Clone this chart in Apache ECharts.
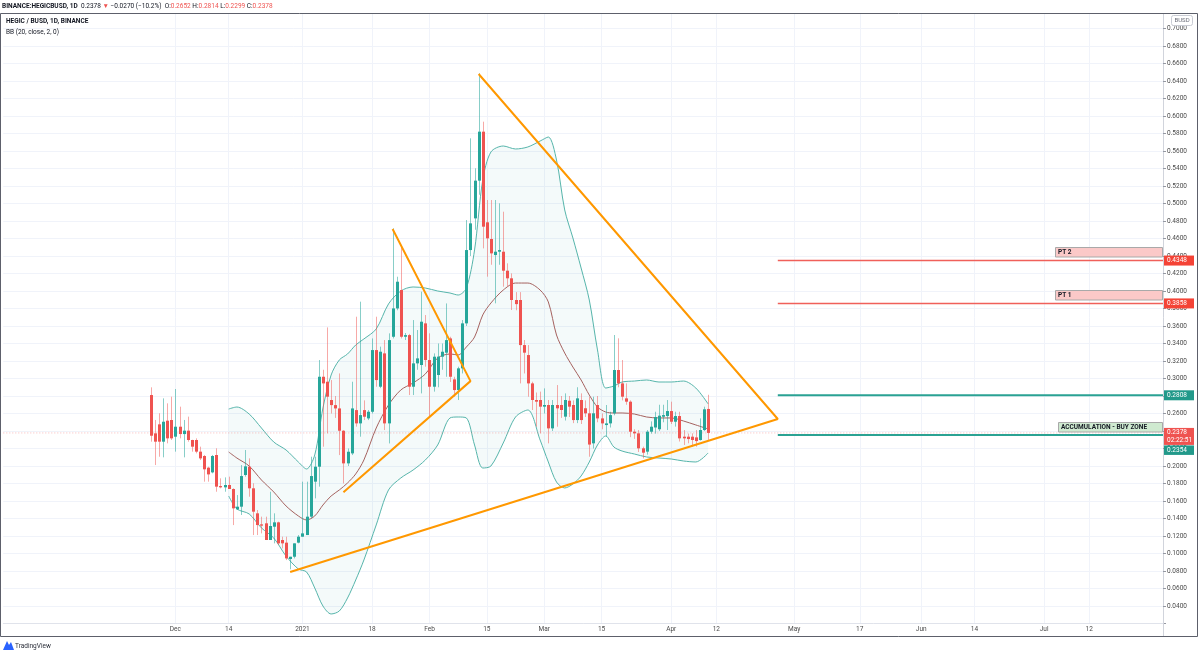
<!DOCTYPE html>
<html>
<head>
<meta charset="utf-8">
<script src="https://cdn.jsdelivr.net/npm/echarts@6/dist/echarts.min.js"></script>
<style>
  html, body { margin: 0; padding: 0; background: #fff; }
  #main { width: 1200px; height: 655px; }
</style>
</head>
<body>
<div id="main"></div>
<script>
// axis range (daily categories) and first candle
var axisStart = '2020-10-20';
var axisDays = 284;
var candleStart = '2020-11-25';

// daily candles from 2020-11-25 to 2021-04-10
var opens = [
  .2811,.2373,.2476,.2278,.2518,.2526,.2335,.2449,.2365,.2404,
  .2297,.2297,.2164,.2114,.1981,.1927,.2126,.1771,.1756,.1783,
  .1737,.1504,.1535,.1897,.1992,.1745,.1459,.1333,.1345,.1154,
  .1306,.1356,.1154,.1124,.0937,.0963,.1124,.1192,.1211,.1421,
  .1821,.1992,.3020,.2963,.2754,.2696,.2658,.2403,.2030,.2144,
  .2639,.2487,.2639,.2544,.2620,.3325,.2906,.3287,.2487,.3477,
  .3801,.4011,.3477,.3496,.2906,.3173,.3154,.3630,.3211,.2906,
  .3040,.3249,.3295,.3458,.2990,.2868,.3116,.3630,.4468,.4830,
  .5261,.5821,.4785,.4594,.4411,.4449,.4449,.4232,.4145,.3897,
  .3897,.3382,.3268,.2944,.2754,.2754,.2678,.2697,.2430,.2697,
  .2697,.2564,.2746,.2697,.2525,.2754,.2660,.2602,.2259,.2697,
  .2544,.2468,.2487,.2602,.3097,.2944,.2773,.2735,.2392,.2373,
  .2202,.2164,.2392,.2440,.2420,.2563,.2571,.2628,.2506,.2571,
  .2335,.2335,.2335,.2327,.2297,.2411,.2652
];
var highs = [
  .2899,.2526,.2602,.2773,.2716,.2792,.2880,.2678,.2526,.2564,
  .2300,.2316,.2221,.2126,.1992,.2126,.2202,.1859,.1870,.1878,
  .1745,.1668,.2011,.2183,.2087,.1802,.1497,.1421,.1421,.1706,
  .1459,.1364,.1192,.1192,.0963,.1116,.1211,.1821,.1821,.2106,
  .2106,.3211,.3100,.3584,.2982,.2800,.3058,.2410,.2200,.2963,
  .3706,.3878,.2750,.2640,.3458,.3706,.3364,.3439,.3516,.4716,
  .4163,.4506,.3520,.3510,.3668,.3554,.3992,.3725,.3516,.3287,
  .3400,.3400,.3858,.3477,.3020,.3135,.3668,.4811,.5745,.5402,
  .6488,.5935,.5040,.5040,.5040,.5002,.4906,.4316,.4201,.3987,
  .3987,.3440,.3382,.2963,.2840,.2850,.2887,.2754,.2754,.2925,
  .2800,.2830,.2800,.2750,.2900,.2830,.2750,.2792,.2792,.2800,
  .2600,.2697,.2620,.3497,.3459,.3211,.2944,.2750,.2420,.2411,
  .2221,.2411,.2510,.2620,.2700,.2700,.2754,.2735,.2620,.2620,
  .2411,.2370,.2373,.2411,.2544,.2678,.2814
];
var lows = [
  .2278,.2011,.2106,.2099,.2259,.2297,.2164,.2316,.2099,.2278,
  .2164,.2145,.2068,.1821,.1821,.1916,.1706,.1745,.1706,.1737,
  .1325,.1497,.1440,.1878,.1649,.1211,.1211,.1230,.1154,.1154,
  .1116,.1097,.1059,.0925,.0820,.0944,.1116,.1192,.1211,.1402,
  .1630,.1764,.2221,.2373,.2600,.2550,.2125,.1801,.2000,.2125,
  .2450,.2335,.2525,.2525,.2600,.2906,.2890,.2411,.2258,.3458,
  .3780,.3458,.3440,.2811,.2811,.3100,.2830,.3135,.2563,.2850,
  .2900,.3100,.3020,.2960,.2792,.2754,.3058,.3600,.4400,.4700,
  .5100,.4487,.4164,.4300,.3859,.4300,.4049,.4050,.3783,.3780,
  .2944,.3058,.2792,.2640,.2449,.2373,.2600,.2259,.2400,.2449,
  .2550,.2520,.2560,.2490,.2490,.2480,.2560,.2106,.2200,.2500,
  .2420,.2335,.2440,.2580,.2900,.2750,.2700,.2330,.2310,.2160,
  .2087,.2130,.2370,.2370,.2400,.2500,.2411,.2480,.2450,.2280,
  .2240,.2260,.2221,.2221,.2290,.2400,.2299
];
var closes = [
  .2346,.2278,.2278,.2506,.2316,.2316,.2449,.2365,.2404,.2297,
  .2221,.2164,.2087,.1962,.1904,.2114,.1764,.1756,.1783,.1737,
  .1516,.1535,.1885,.1996,.1745,.1478,.1325,.1318,.1154,.1314,
  .1356,.1116,.1116,.0944,.0963,.1116,.1192,.1230,.1421,.1885,
  .1992,.3020,.2944,.2792,.2696,.2658,.2403,.2030,.2163,.2658,
  .2487,.2582,.2563,.2620,.3325,.2982,.3306,.2487,.3439,.3801,
  .4106,.3477,.3496,.2906,.3173,.3230,.3649,.3211,.2906,.3249,
  .3250,.3306,.3439,.3020,.2868,.3116,.3630,.4468,.4773,.5261,
  .5821,.4735,.4602,.4430,.4449,.4468,.4232,.4145,.3897,.3850,
  .3382,.3295,.2944,.2754,.2735,.2678,.2697,.2430,.2697,.2659,
  .2640,.2754,.2678,.2525,.2773,.2525,.2602,.2245,.2602,.2544,
  .2487,.2487,.2582,.3097,.2944,.2792,.2735,.2392,.2373,.2202,
  .2152,.2392,.2449,.2560,.2575,.2582,.2628,.2506,.2571,.2316,
  .2316,.2308,.2297,.2285,.2411,.2648,.2378
];

// Bollinger bands (day offsets from candleStart)
var bbDays = [19,21,24,27,30,33,36,38,40,42,44,46,48,50,52,55,58,61,64,67,70,73,75,77,
              79,81,83,86,89,92,95,97,99,101,103,105,107,109,111,113,115,118,121,124,127,130,133,136];
var bbUpper = [.2651,.2674,.2594,.2434,.2274,.2183,.2046,.1966,.2126,.2663,.3040,.3212,.3280,.3383,.3452,.3566,
               .3852,.4000,.4046,.4034,.4000,.3977,.3954,.4034,.4469,.5269,.5589,.5657,.5623,.5646,.5714,.5760,
               .5497,.4926,.4606,.4263,.3897,.3326,.2891,.2914,.2960,.2971,.2983,.2960,.2960,.2971,.2891,.2709];
var bbMid = [.2160,.2091,.2000,.1840,.1703,.1543,.1429,.1383,.1429,.1554,.1657,.1726,.1806,.1909,.2069,.2434,
             .2697,.2869,.2949,.3052,.3234,.3280,.3269,.3360,.3474,.3726,.3863,.4011,.4091,.4091,.4011,.3875,
             .3497,.3291,.3131,.2983,.2811,.2674,.2617,.2606,.2606,.2594,.2560,.2549,.2549,.2514,.2469,.2423];
var bbLower = [.1657,.1509,.1452,.1292,.1177,.0971,.0823,.0789,.0606,.0400,.0309,.0343,.0491,.0697,.0926,.1326,
               .1726,.1863,.1954,.2069,.2240,.2549,.2560,.2549,.2240,.1977,.2000,.2263,.2560,.2640,.2297,.2046,
               .1817,.1749,.1794,.1886,.2046,.2240,.2343,.2217,.2171,.2137,.2103,.2091,.2080,.2057,.2046,.2149];

// drawings
var bigTriangle = [['2021-02-13', 0.648], ['2021-04-27', 0.2537], ['2020-12-29', 0.0789]];
var smallTriangle = [['2021-01-23', 0.4709], ['2021-02-11', 0.297], ['2021-01-11', 0.170]];
var levelStart = '2021-04-27';
var levelValues = [0.4348, 0.3858, 0.2808, 0.2354];
var levelNotes = ['PT 2', 'PT 1', '', 'ACCUMULATION - BUY ZONE'];
var lastPrice = 0.2378;
var countdown = '02:22:51';

var timeTicks = {
  '2020-12-01': 'Dec', '2020-12-14': '14', '2021-01-01': '2021', '2021-01-18': '18',
  '2021-02-01': 'Feb', '2021-02-15': '15', '2021-03-01': 'Mar', '2021-03-15': '15',
  '2021-04-01': 'Apr', '2021-04-12': '12', '2021-05-01': 'May', '2021-05-17': '17',
  '2021-06-01': 'Jun', '2021-06-14': '14', '2021-07-01': 'Jul', '2021-07-12': '12'
};

var UP = '#26a69a', DOWN = '#ef5350', ORANGE = '#ff9800';
var FONT = 'Roboto, "Liberation Sans", sans-serif';

function addDays(s, n) {
  var d = new Date(s + 'T00:00:00Z');
  d.setUTCDate(d.getUTCDate() + n);
  return d.toISOString().slice(0, 10);
}
var dates = [];
for (var i = 0; i < axisDays; i++) dates.push(addDays(axisStart, i));
var idx = {};
dates.forEach(function (d, i) { idx[d] = i; });
var c0 = idx[candleStart];

var candleData = opens.map(function (o, i) {
  return [c0 + i, o, closes[i], lows[i], highs[i]];
});
function bbData(arr) {
  return bbDays.map(function (d, i) { return [c0 + d, arr[i]]; });
}
var bbWidth = bbDays.map(function (d, i) { return [c0 + d, bbUpper[i] - bbLower[i]]; });
function drawing(pts) {
  return pts.map(function (p) { return [idx[p[0]], p[1]]; });
}
function isTick(index, value) { return !!timeTicks[dates[index]]; }

function renderCandle(params, api) {
  var x = api.value(0), o = api.value(1), c = api.value(2), l = api.value(3), h = api.value(4);
  var pO = api.coord([x, o]), pC = api.coord([x, c]);
  var pL = api.coord([x, l]), pH = api.coord([x, h]);
  var cx = Math.round(pO[0]);
  var up = c >= o;
  var top = Math.min(pO[1], pC[1]), bot = Math.max(pO[1], pC[1]);
  return {
    type: 'group',
    children: [
      { type: 'line', shape: { x1: cx + 0.5, y1: pH[1], x2: cx + 0.5, y2: pL[1] },
        style: { stroke: up ? 'rgba(38,166,154,0.55)' : 'rgba(239,83,80,0.5)', lineWidth: 1 } },
      { type: 'rect', shape: { x: cx - 1, y: top, width: 3, height: Math.max(1, bot - top) },
        style: { fill: up ? UP : DOWN } }
    ]
  };
}

var levelSeries = levelValues.map(function (v, i) {
  return {
    type: 'line', name: 'level' + i, symbol: 'none', silent: true, z: 7,
    data: [[idx[levelStart], v], [axisDays - 1, v]],
    lineStyle: { color: i < 2 ? '#f0605a' : '#2aa293', width: i < 2 ? 1.5 : 2 }
  };
});

var option = {
  animation: false,
  backgroundColor: '#fff',
  textStyle: { fontFamily: FONT },
  grid: { left: 3.3, right: 37, top: 11, bottom: 31.5 },
  xAxis: {
    type: 'category', data: dates, boundaryGap: false,
    axisLine: { lineStyle: { color: '#e0e3eb' } },
    axisTick: { show: false },
    axisLabel: {
      interval: isTick, margin: 2, fontSize: 6.5, color: '#4a4a4a', fontFamily: FONT,
      formatter: function (v) { return timeTicks[v] || ''; }
    },
    splitLine: { show: true, interval: isTick, lineStyle: { color: '#f0f3fa' } }
  },
  yAxis: {
    type: 'value', position: 'right', min: 0.02, max: 0.72, interval: 0.02,
    axisLine: { show: true, lineStyle: { color: '#d1d4dc' } },
    axisTick: { show: true, length: 3, lineStyle: { color: '#9598a1' } },
    axisLabel: {
      margin: 4, fontSize: 6.5, color: '#4a4a4a', fontFamily: FONT,
      formatter: function (v) { return (v < 0.03 || v > 0.71) ? '' : v.toFixed(4); }
    },
    splitLine: { lineStyle: { color: '#f0f3fa' }, showMinLine: false, showMaxLine: false }
  },
  series: [
    { type: 'line', name: 'bbBase', data: bbData(bbLower), stack: 'bb', symbol: 'none', smooth: 0.3,
      silent: true, z: 1, lineStyle: { opacity: 0 } },
    { type: 'line', name: 'bbFill', data: bbWidth, stack: 'bb', symbol: 'none', smooth: 0.3,
      silent: true, z: 1, lineStyle: { opacity: 0 }, areaStyle: { color: 'rgba(38,166,154,0.07)' } },
    { type: 'line', name: 'upper', data: bbData(bbUpper), symbol: 'none', smooth: 0.3, silent: true, z: 2,
      lineStyle: { color: '#56b5ab', width: 1 } },
    { type: 'line', name: 'lower', data: bbData(bbLower), symbol: 'none', smooth: 0.3, silent: true, z: 2,
      lineStyle: { color: '#56b5ab', width: 1 } },
    { type: 'line', name: 'basis', data: bbData(bbMid), symbol: 'none', smooth: 0.3, silent: true, z: 2,
      lineStyle: { color: '#a5625f', width: 1 } },
    { type: 'line', name: 'last', data: [[0, lastPrice], [axisDays - 1, lastPrice]], symbol: 'none',
      silent: true, z: 2, lineStyle: { color: 'rgba(239,83,80,0.4)', width: 1, type: [1, 2] } },
    { type: 'custom', name: 'HEGIC', renderItem: renderCandle, data: candleData, z: 5,
      encode: { x: 0, y: [1, 2, 3, 4] } },
    { type: 'line', name: 'bigTriangle', data: drawing(bigTriangle), symbol: 'none', silent: true, z: 8,
      lineStyle: { color: ORANGE, width: 2 } },
    { type: 'line', name: 'smallTriangle', data: drawing(smallTriangle), symbol: 'none', silent: true, z: 8,
      lineStyle: { color: ORANGE, width: 2 } }
  ].concat(levelSeries)
};

var chart = echarts.init(document.getElementById('main'));
chart.setOption(option);

function py(v) { return chart.convertToPixel({ yAxisIndex: 0 }, v); }
var axisX = 1163;

var g = [];
// header strip and frame
g.push({ type: 'rect', z: 100, shape: { x: 0, y: 0, width: 1200, height: 13 }, style: { fill: '#fff' } });
g.push({ type: 'rect', z: 100, shape: { x: 0.5, y: 13.5, width: 1197, height: 623 },
  style: { fill: 'none', stroke: '#5d606b', lineWidth: 1 } });
g.push({ type: 'line', z: 100, shape: { x1: axisX + 0.5, y1: 620, x2: axisX + 0.5, y2: 636 },
  style: { stroke: '#d1d4dc', lineWidth: 1 } });
g.push({ type: 'text', z: 101, x: 2, y: 6.5, style: {
  text: '{b|BINANCE:HEGICBUSD, 1D}  {n|0.2378} {r|▼} {n|−0.0270 (−10.2%)}  {n|O:}{r|0.2652} {n|H:}{r|0.2814} {n|L:}{r|0.2299} {n|C:}{r|0.2378}',
  verticalAlign: 'middle', font: '6.5px ' + FONT,
  rich: {
    b: { fontWeight: 'bold', fontSize: 6.5, fill: '#131722', fontFamily: FONT },
    n: { fontSize: 6.5, fill: '#131722', fontFamily: FONT },
    r: { fontSize: 6.5, fill: '#ef5350', fontFamily: FONT }
  } } });
g.push({ type: 'text', z: 101, x: 6, y: 21.5, style: { text: 'HEGIC / BUSD, 1D, BINANCE', verticalAlign: 'middle',
  fill: '#131722', font: 'bold 6.5px ' + FONT } });
g.push({ type: 'text', z: 101, x: 6, y: 32, style: { text: 'BB (20, close, 2, 0)', verticalAlign: 'middle',
  fill: '#131722', font: '6.5px ' + FONT } });
// BUSD tag
g.push({ type: 'rect', z: 101, shape: { x: 1171.5, y: 15.5, width: 21, height: 10, r: 2 },
  style: { fill: '#fff', stroke: '#c9ccd4', lineWidth: 1 } });
g.push({ type: 'text', z: 102, x: 1182, y: 20.8, style: { text: 'BUSD', align: 'center', verticalAlign: 'middle',
  fill: '#6a6d78', font: '6px ' + FONT } });

// level notes
levelValues.forEach(function (v, i) {
  var y = py(v);
  if (levelNotes[i]) {
    var wide = levelNotes[i].length > 6;
    var bx = wide ? 1058 : 1055;
    g.push({ type: 'rect', z: 90, shape: { x: bx + 0.5, y: Math.round(y - 13.5) + 0.5, width: axisX - bx - 1, height: 9.5 },
      style: { fill: wide ? '#cfead0' : '#fbc9c8', stroke: '#a9a9a9', lineWidth: 1 } });
    g.push({ type: 'text', z: 91, x: bx + 3, y: Math.round(y - 13.5) + 5.5, style: { text: levelNotes[i],
      verticalAlign: 'middle', fill: '#131722', font: 'bold 6.5px ' + FONT } });
  }
});
// price tags on the axis
function tag(y, h, color, lines) {
  g.push({ type: 'rect', z: 95, shape: { x: axisX + 1, y: y, width: 30, height: h }, style: { fill: color } });
  lines.forEach(function (t, k) {
    g.push({ type: 'text', z: 96, x: axisX + 4, y: y + 4.8 + k * 8, style: { text: t, verticalAlign: 'middle',
      fill: '#fff', font: '6.5px ' + FONT } });
  });
}
tag(py(levelValues[0]) - 5, 10, '#f44336', [levelValues[0].toFixed(4)]);
tag(py(levelValues[1]) - 5, 10, '#f44336', [levelValues[1].toFixed(4)]);
tag(py(levelValues[2]) - 5, 10, '#22998a', [levelValues[2].toFixed(4)]);
var yl = py(lastPrice);
tag(yl - 5, 17, '#ef5350', [lastPrice.toFixed(4), countdown]);
tag(yl + 12.5, 9.5, '#22998a', [levelValues[3].toFixed(4)]);

// footer logo
g.push({ type: 'polygon', z: 101, shape: { points: [[3, 650], [7, 641], [9, 645], [11, 642], [14, 650]] },
  style: { fill: '#2962ff' } });
g.push({ type: 'text', z: 101, x: 15, y: 646, style: { text: 'TradingView', verticalAlign: 'middle',
  fill: '#2a2e39', font: '6.5px ' + FONT } });

chart.setOption({ graphic: g });
</script>
</body>
</html>
